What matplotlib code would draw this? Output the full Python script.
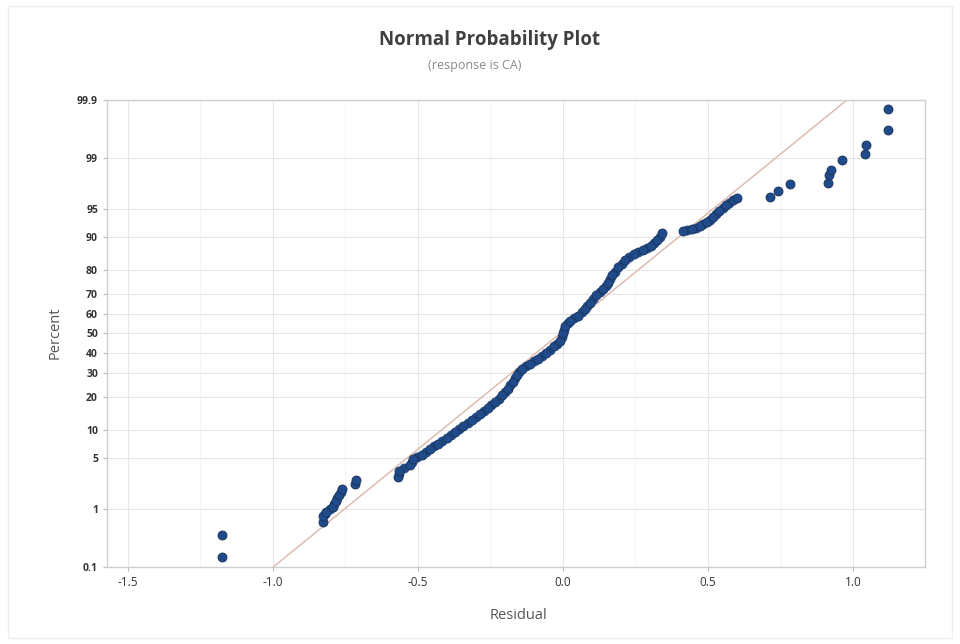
import math
import matplotlib
matplotlib.use("Agg")
import matplotlib.pyplot as plt
import numpy as np

# residuals and plotted percents
residual = [-1.176, -1.176,
            -0.828, -0.828, -0.817, -0.793, -0.783, -0.772, -0.762, -0.717, -0.714,
            -0.569, -0.566, -0.528, -0.517, -0.486, -0.459, -0.431, -0.400, -0.372,
            -0.345, -0.314, -0.286, -0.259, -0.234, -0.210, -0.190, -0.172, -0.159,
            -0.141, -0.114, -0.086, -0.059, -0.031, -0.010, 0.000, 0.007, 0.024,
            0.052, 0.076, 0.093, 0.114, 0.138, 0.155, 0.169, 0.190, 0.214, 0.245,
            0.276, 0.303, 0.324, 0.341,
            0.414, 0.445, 0.472, 0.497, 0.517, 0.538, 0.562, 0.586, 0.600,
            0.714, 0.741, 0.783, 0.914, 0.917, 0.924, 0.962, 1.041, 1.045, 1.121, 1.121]
percent = [0.155, 0.38,
           0.64, 0.80, 0.91, 1.10, 1.34, 1.64, 1.99, 2.33, 2.62,
           2.89, 3.46, 4.12, 4.87, 5.42, 6.36, 7.23, 8.40, 9.68,
           11.1, 12.7, 14.4, 16.3, 18.4, 20.6, 23.3, 26.2, 29.3,
           32.1, 34.5, 37.0, 40.0, 43.2, 46.3, 50.0, 53.7, 56.8,
           59.4, 62.5, 65.9, 69.3, 72.0, 75.0, 77.9, 80.9, 83.4, 85.3,
           86.5, 87.6, 89.1, 90.8,
           91.2, 91.6, 92.2, 92.95, 93.8, 94.7, 95.5, 96.1, 96.4,
           96.5, 97.0, 97.6, 97.7, 98.2, 98.5, 98.9, 99.12, 99.37, 99.64, 99.85]

# more points read inside the dense band
band_residual = [-0.822, -0.805, -0.788, -0.778, -0.767,
                 -0.567, -0.547, -0.522, -0.502, -0.472, -0.445, -0.416, -0.386,
                 -0.359, -0.329, -0.300, -0.272, -0.247, -0.222, -0.200, -0.181,
                 -0.166, -0.150, -0.128, -0.100, -0.072, -0.045, -0.021, -0.005,
                 0.003, 0.016, 0.038, 0.064, 0.084, 0.103, 0.126, 0.147, 0.162,
                 0.179, 0.202, 0.229, 0.260, 0.290, 0.314, 0.333,
                 0.429, 0.459, 0.484, 0.507, 0.528, 0.550, 0.574]
band_percent = [0.85, 1.0, 1.21, 1.48, 1.81,
                3.17, 3.78, 4.48, 5.14, 5.88, 6.79, 7.80, 9.01,
                10.4, 11.9, 13.55, 15.4, 17.3, 19.4, 21.9, 24.7,
                27.8, 30.7, 33.3, 35.8, 38.5, 41.6, 44.7, 48.2,
                51.8, 55.3, 58.2, 61.0, 64.2, 67.6, 70.7, 73.6, 76.5,
                79.4, 82.2, 84.3, 85.9, 87.0, 88.4, 90.0,
                91.4, 91.9, 92.6, 93.4, 94.3, 95.1, 95.8]

# fitted normal line
fit_mean = -0.010
fit_sd = 0.320

pct_ticks = [0.1, 1, 5, 10, 20, 30, 40, 50, 60, 70, 80, 90, 95, 99, 99.9]
pct_labels = ['0.1', '1', '5', '10', '20', '30', '40', '50', '60', '70', '80', '90', '95', '99', '99.9']
x_ticks = [-1.5, -1.0, -0.5, 0.0, 0.5, 1.0]


def norm_cdf(z):
    return 0.5 * (1 + np.vectorize(math.erf)(np.asarray(z) / math.sqrt(2)))


def norm_ppf(p):
    # bisection, good enough for plotting
    p = np.asarray(p, dtype=float)
    lo = np.full_like(p, -8.0)
    hi = np.full_like(p, 8.0)
    for _ in range(60):
        mid = (lo + hi) / 2
        below = norm_cdf(mid) < p
        lo = np.where(below, mid, lo)
        hi = np.where(below, hi, mid)
    return (lo + hi) / 2


plt.rcParams['font.family'] = ['Open Sans', 'DejaVu Sans']

fig = plt.figure(figsize=(9.6, 6.44), dpi=100)
ax = fig.add_axes([0.1115, 0.1196, 0.852, 0.7251])

zmin, zmax = norm_ppf([0.001, 0.999])

# grid
for t in x_ticks:
    ax.axvline(t, color='#e6e6e6', lw=0.8, zorder=0)
for t in np.arange(-1.25, 1.3, 0.5):
    ax.axvline(t, color='#f2f2f2', lw=0.6, zorder=0)
for z in norm_ppf(np.array(pct_ticks) / 100):
    ax.axhline(z, color='#e6e6e6', lw=0.8, zorder=0)

# fit line
ax.plot([fit_mean + fit_sd * zmin * 1.2, fit_mean + fit_sd * zmax * 1.2],
        [zmin * 1.2, zmax * 1.2], color='#dcbcb0', lw=1.1, zorder=1)

# points
ax.plot(band_residual, norm_ppf(np.array(band_percent) / 100), 'o', ms=6.5,
        color='#1f4b8a', mec='#1f4b8a', mew=0.6, zorder=2)
ax.plot(residual, norm_ppf(np.array(percent) / 100), 'o', ms=6.5,
        color='#1f4b8a', mec='#1c3358', mew=0.6, zorder=3)

ax.set_xlim(-1.572, 1.248)
ax.set_ylim(zmin, zmax)
ax.set_xticks(x_ticks)
ax.set_xticklabels(['-1.5', '-1.0', '-0.5', '0.0', '0.5', '1.0'])
ax.set_yticks(norm_ppf(np.array(pct_ticks) / 100))
ax.set_yticklabels(pct_labels)
ax.tick_params(axis='both', colors='#bbbbbb', labelcolor='#333333', length=3, width=0.8)
ax.tick_params(axis='y', labelsize=7.5)
ax.tick_params(axis='x', labelsize=8.5)
for lab in ax.get_yticklabels():
    lab.set_fontweight('bold')
for s in ax.spines.values():
    s.set_color('#cfcfcf')
    s.set_linewidth(1.0)

fig.text(0.51, 0.938, 'Normal Probability Plot', ha='center', va='center',
         fontsize=13.5, fontweight='bold', color='#404040')
fig.text(0.494, 0.898, '(response is CA)', ha='center', va='center',
         fontsize=9, color='#8a8a8a')
fig.text(0.057, 0.483, 'Percent', rotation=90, ha='center', va='center',
         fontsize=10.5, color='#555555')
fig.text(0.54, 0.045, 'Residual', ha='center', va='center',
         fontsize=10.5, color='#555555')

fig.patches.append(plt.Rectangle((0.008, 0.01), 0.984, 0.98, transform=fig.transFigure,
                                 fill=False, ec='#eeeeee', lw=1))

fig.savefig('out.png', dpi=100, facecolor='white')
